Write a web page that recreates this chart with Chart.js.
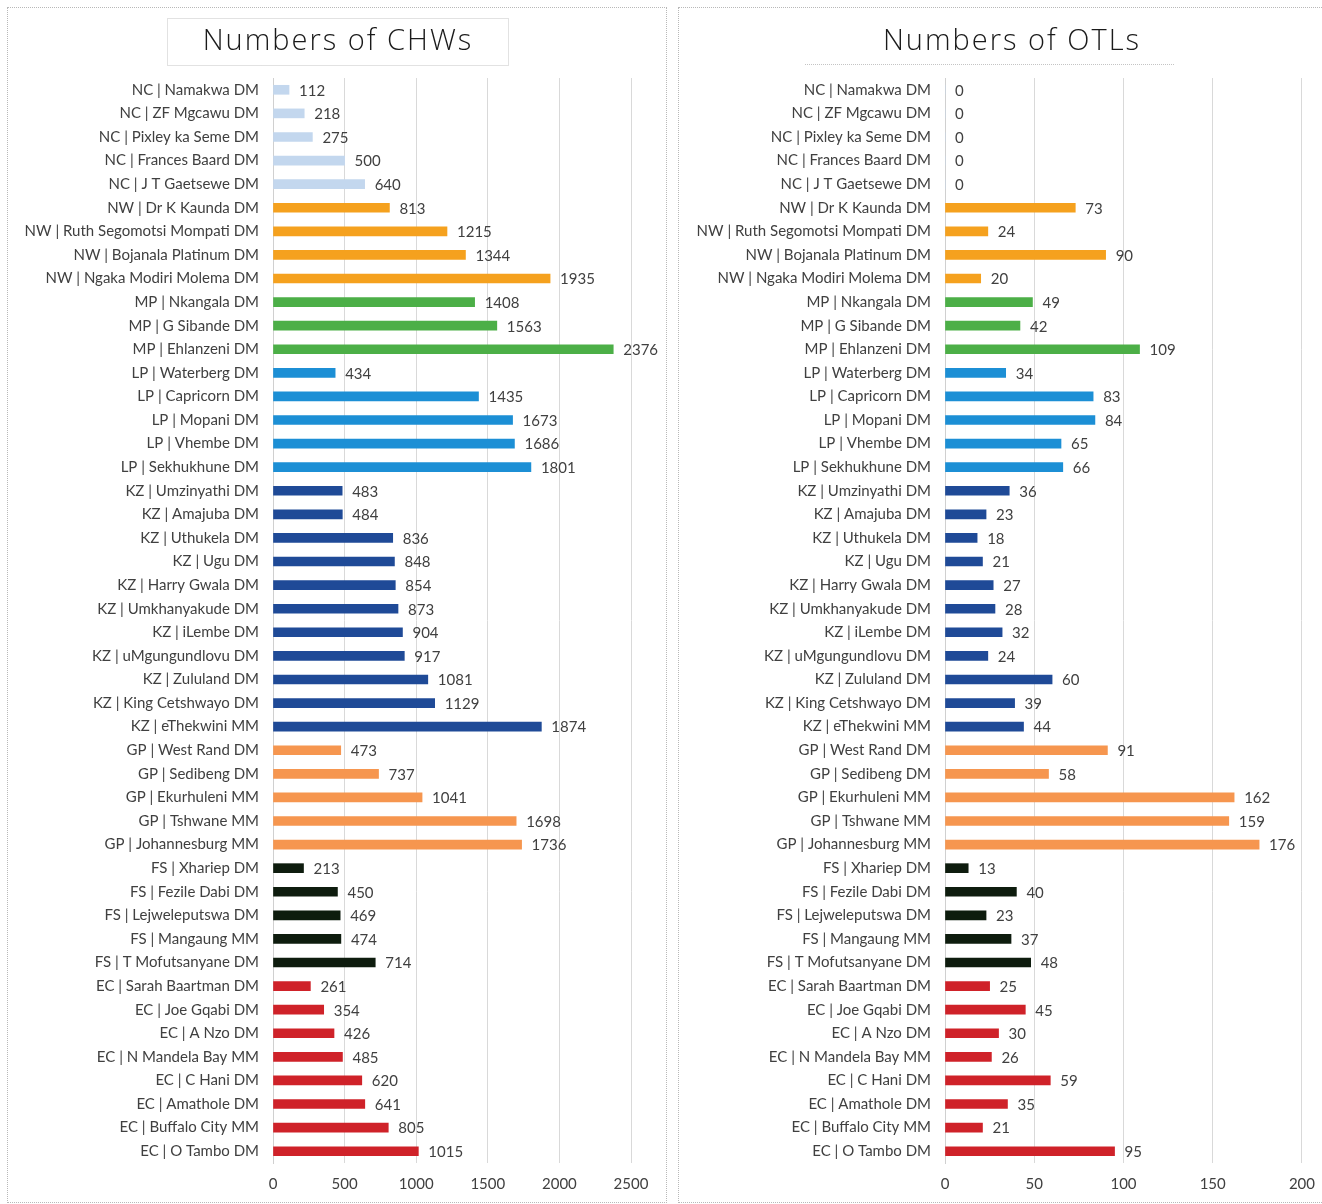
<!doctype html>
<html lang="en">
    <head>
        <meta charset="utf-8" />
        <title>CHWs and OTLs by district</title>
        <script src="https://cdn.jsdelivr.net/npm/chart.js@4/dist/chart.umd.min.js"></script>
        <style>
            body { margin: 0; background: #fff; }
            .panel { position: absolute; top: 7px; border: 1px dotted #b8b8b8; box-sizing: border-box; }
            #p1 { left: 7px; width: 660px; height: 1196px; }
            #p2 { left: 678px; width: 650px; height: 1196px; }
        </style>
    </head>
    <body>
        <div class="panel" id="p1"><canvas id="chw" width="658" height="1194"></canvas></div>
        <div class="panel" id="p2"><canvas id="otl" width="648" height="1194"></canvas></div>

        <script>
            // districts, top to bottom
            const districts = [
                "NC | Namakwa DM", "NC | ZF Mgcawu DM", "NC | Pixley ka Seme DM", "NC | Frances Baard DM", "NC | J T Gaetsewe DM",
                "NW | Dr K Kaunda DM", "NW | Ruth Segomotsi Mompati DM", "NW | Bojanala Platinum DM", "NW | Ngaka Modiri Molema DM",
                "MP | Nkangala DM", "MP | G Sibande DM", "MP | Ehlanzeni DM",
                "LP | Waterberg DM", "LP | Capricorn DM", "LP | Mopani DM", "LP | Vhembe DM", "LP | Sekhukhune DM",
                "KZ | Umzinyathi DM", "KZ | Amajuba DM", "KZ | Uthukela DM", "KZ | Ugu DM", "KZ | Harry Gwala DM",
                "KZ | Umkhanyakude DM", "KZ | iLembe DM", "KZ | uMgungundlovu DM", "KZ | Zululand DM",
                "KZ | King Cetshwayo DM", "KZ | eThekwini MM",
                "GP | West Rand DM", "GP | Sedibeng DM", "GP | Ekurhuleni MM", "GP | Tshwane MM", "GP | Johannesburg MM",
                "FS | Xhariep DM", "FS | Fezile Dabi DM", "FS | Lejweleputswa DM", "FS | Mangaung MM", "FS | T Mofutsanyane DM",
                "EC | Sarah Baartman DM", "EC | Joe Gqabi DM", "EC | A Nzo DM", "EC | N Mandela Bay MM",
                "EC | C Hani DM", "EC | Amathole DM", "EC | Buffalo City MM", "EC | O Tambo DM"
            ];

            const chwCounts = [
                112, 218, 275, 500, 640,
                813, 1215, 1344, 1935,
                1408, 1563, 2376,
                434, 1435, 1673, 1686, 1801,
                483, 484, 836, 848, 854, 873, 904, 917, 1081, 1129, 1874,
                473, 737, 1041, 1698, 1736,
                213, 450, 469, 474, 714,
                261, 354, 426, 485, 620, 641, 805, 1015
            ];

            const otlCounts = [
                0, 0, 0, 0, 0,
                73, 24, 90, 20,
                49, 42, 109,
                34, 83, 84, 65, 66,
                36, 23, 18, 21, 27, 28, 32, 24, 60, 39, 44,
                91, 58, 162, 159, 176,
                13, 40, 23, 37, 48,
                25, 45, 30, 26, 59, 35, 21, 95
            ];

            const chwTicks = [0, 500, 1000, 1500, 2000, 2500];
            const otlTicks = [0, 50, 100, 150, 200];

            // colore per provincia
            const provColor = {
                NC: "#c3d7ee", NW: "#f5a11e", MP: "#4caf47", LP: "#1c8fd5",
                KZ: "#1f4a97", GP: "#f6964f", FS: "#0e1c0e", EC: "#cf2229"
            };
            const barColors = districts.map(d => provColor[d.slice(0, 2)]);

            const FONT = "Lato, 'Open Sans', sans-serif";

            // etichette con i valori a destra delle barre
            const valueLabels = {
                id: "valueLabels",
                afterDatasetsDraw(chart) {
                    const ctx = chart.ctx;
                    const meta = chart.getDatasetMeta(0);
                    const vals = chart.data.datasets[0].data;
                    ctx.save();
                    ctx.font = "15px " + FONT;
                    ctx.fillStyle = "#404040";
                    ctx.textAlign = "left";
                    ctx.textBaseline = "middle";
                    meta.data.forEach((el, i) => {
                        ctx.fillText(String(vals[i]), el.x + 10, el.y + 1);
                    });
                    ctx.restore();
                }
            };

            // titolo sottile con cornice tratteggiata (riquadro o sola linea sotto)
            const panelTitle = {
                id: "panelTitle",
                afterDraw(chart, args, o) {
                    const ctx = chart.ctx;
                    ctx.save();
                    ctx.font = "300 29px 'Open Sans', sans-serif";
                    ctx.letterSpacing = "2px";
                    ctx.fillStyle = "#1a1a1a";
                    ctx.textAlign = "center";
                    ctx.textBaseline = "middle";
                    ctx.fillText(o.text, o.cx, o.cy);
                    ctx.letterSpacing = "0px";
                    ctx.strokeStyle = "#c4c4c4";
                    ctx.lineWidth = 1;
                    ctx.setLineDash([1, 1]);
                    ctx.beginPath();
                    const [x0, y0, x1, y1] = o.frame;
                    if (o.box) {
                        ctx.rect(x0 + 0.5, y0 + 0.5, x1 - x0, y1 - y0);
                    } else {
                        ctx.moveTo(x0, y1 + 0.5);
                        ctx.lineTo(x1, y1 + 0.5);
                    }
                    ctx.stroke();
                    ctx.restore();
                }
            };

            function makeChart(id, values, ticks, yWidth, padRight, titleOpts) {
                return new Chart(document.getElementById(id), {
                    type: "bar",
                    data: {
                        labels: districts,
                        datasets: [{
                            data: values,
                            backgroundColor: barColors,
                            barThickness: 9,
                            borderWidth: 0
                        }]
                    },
                    options: {
                        indexAxis: "y",
                        responsive: false,
                        animation: false,
                        layout: { padding: { left: 0, right: padRight, top: 70, bottom: 0 } },
                        scales: {
                            x: {
                                min: ticks[0],
                                max: ticks[ticks.length - 1],
                                afterBuildTicks: s => { s.ticks = ticks.map(v => ({ value: v })); },
                                afterFit: s => { s.height = 39; },
                                grid: { color: "#d9d9d9", drawTicks: false },
                                border: { display: false },
                                ticks: {
                                    color: "#404040", font: { family: FONT, size: 15 }, padding: 12,
                                    callback: v => String(v)
                                }
                            },
                            y: {
                                afterFit: s => { s.width = yWidth; },
                                grid: { display: false, drawTicks: false },
                                border: { color: "#d0d0d0" },
                                ticks: { color: "#404040", font: { family: FONT, size: 15 }, padding: 14, autoSkip: false }
                            }
                        },
                        plugins: {
                            legend: { display: false },
                            tooltip: { enabled: false },
                            title: { display: false },
                            panelTitle: titleOpts
                        }
                    },
                    plugins: [valueLabels, panelTitle]
                });
            }

            makeChart("chw", chwCounts, chwTicks, 265, 35,
                { text: "Numbers of CHWs", cx: 330, cy: 34, box: true, frame: [159, 10, 500, 57] });
            makeChart("otl", otlCounts, otlTicks, 266, 18,
                { text: "Numbers of OTLs", cx: 333, cy: 34, box: false, frame: [126, 10, 496, 56] });
        </script>
    </body>
</html>
